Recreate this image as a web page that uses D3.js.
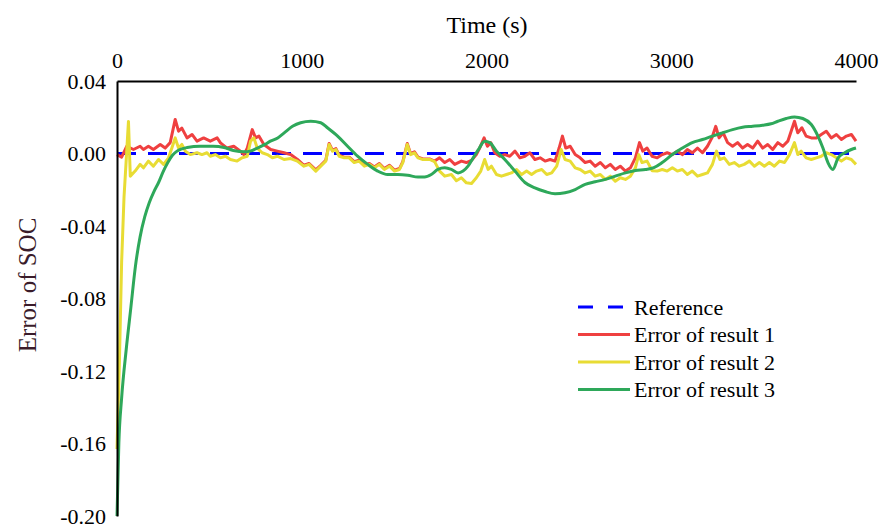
<!DOCTYPE html>
<html>
<head>
<meta charset="utf-8">
<script src="https://cdn.jsdelivr.net/npm/d3@7/dist/d3.min.js"></script>
<style>
  body { margin: 0; background: #fff; }
  svg text { font-family: 'Liberation Serif', 'Times New Roman', Times, serif; }
</style>
</head>
<body>
<svg id="chart" width="881" height="530"></svg>
<script>
// tick values
const xTicks = [0, 1000, 2000, 3000, 4000];
const yTicks = [0.04, 0.00, -0.04, -0.08, -0.12, -0.16, -0.20];

// [time (s), error]
const reference = [[0, 0], [4000, 0]];

const result1 = [
  [0,-0.0006],[25,-0.002],[53,0.004],[89,0.0022],[125,0.004],[143,0.0022],[170,0.004],[197,0.0022],
  [234,0.005],[261,0.003],[288,0.006],[315,0.0188],[333,0.0123],[351,0.014],[379,0.0086],[406,0.0105],
  [433,0.0068],[469,0.0086],[505,0.0068],[542,0.0086],[560,0.0059],[596,0.003],[632,0.004],[668,0.0013],
  [687,-0.0006],[705,0.003],[732,0.0132],[750,0.0086],[768,0.0096],[795,0.005],[832,0.0022],[868,0.0013],
  [904,0.0004],[940,-0.0006],[977,-0.0033],[1012,-0.0065],[1040,-0.0055],[1076,-0.009],[1103,-0.0065],
  [1130,-0.0037],[1148,0.0055],[1166,0.0018],[1185,0.0027],[1203,-0.001],[1230,-0.002],[1257,-0.002],
  [1284,-0.0045],[1311,-0.0037],[1339,-0.0065],[1366,-0.0055],[1393,-0.0074],[1420,-0.0055],[1447,-0.0083],
  [1475,-0.0065],[1502,-0.0092],[1529,-0.0083],[1547,-0.0045],[1571,0.0055],[1589,-0.0001],[1610,0.0009],
  [1629,-0.002],[1656,-0.003],[1692,-0.003],[1719,-0.0042],[1746,-0.0024],[1774,-0.005],[1801,-0.0033],
  [1828,-0.006],[1864,-0.0042],[1891,-0.005],[1919,-0.0038],[1945,-0.0006],[1963,0.003],[1987,0.0086],
  [2005,0.004],[2023,0.006],[2045,0.0004],[2072,-0.0015],[2099,-0.0006],[2126,-0.0015],[2154,0.0013],
  [2181,-0.0024],[2208,-0.0015],[2235,0.0004],[2262,-0.0033],[2290,-0.0024],[2317,-0.0042],[2344,-0.0033],
  [2371,-0.0042],[2393,0.003],[2411,0.0096],[2429,0.003],[2453,0.004],[2480,-0.0006],[2507,-0.0024],
  [2534,-0.005],[2561,-0.0042],[2588,-0.007],[2616,-0.005],[2643,-0.0079],[2670,-0.006],[2697,-0.0088],
  [2724,-0.007],[2752,-0.0097],[2779,-0.0079],[2806,-0.0024],[2828,0.006],[2846,0.0013],[2869,0.003],
  [2896,-0.0015],[2924,-0.0024],[2951,-0.0006],[2978,0.0004],[3006,-0.0006],[3033,0.0013],[3060,-0.0006],
  [3087,0.0022],[3114,0.0004],[3142,0.003],[3169,0.0004],[3196,0.004],[3220,0.0086],[3241,0.015],
  [3259,0.0086],[3281,0.0114],[3305,0.006],[3332,0.004],[3359,0.006],[3386,0.003],[3413,0.005],[3441,0.003],
  [3468,0.0068],[3495,0.003],[3522,0.005],[3549,0.0022],[3577,0.006],[3604,0.004],[3631,0.0068],
  [3649,0.0123],[3667,0.0178],[3685,0.0114],[3707,0.0142],[3730,0.0096],[3758,0.0086],[3785,0.0086],
  [3812,0.0105],[3839,0.0123],[3866,0.0086],[3894,0.0105],[3921,0.0077],[3948,0.0096],[3975,0.0105],
  [4000,0.0068]
];

const result2 = [
  [0,-0.163],[13,-0.115],[25,-0.060],[38,-0.024],[49,-0.005],[62,0.0177],[72,-0.0125],[98,-0.0097],
  [125,-0.006],[143,-0.0079],[170,-0.0042],[197,-0.007],[225,-0.0033],[252,-0.006],[279,-0.0024],
  [297,0.003],[315,0.0086],[333,0.003],[351,0.005],[370,0.0013],[397,-0.0006],[433,0.0004],[460,-0.0006],
  [487,0.0004],[505,-0.0015],[532,-0.0006],[560,-0.0024],[587,-0.0015],[614,-0.0033],[650,-0.0042],
  [677,-0.0024],[705,-0.0015],[723,0.0068],[741,0.0086],[759,0.003],[786,0.0004],[814,-0.0006],
  [841,-0.0024],[868,-0.0015],[904,-0.0033],[940,-0.0028],[976,-0.0042],[1012,-0.007],[1040,-0.006],
  [1076,-0.0097],[1103,-0.007],[1130,-0.0042],[1148,0.005],[1166,0.0013],[1185,0.0022],[1203,-0.0015],
  [1230,-0.0024],[1257,-0.0024],[1284,-0.005],[1311,-0.0042],[1339,-0.007],[1366,-0.006],[1393,-0.0079],
  [1420,-0.006],[1447,-0.0088],[1475,-0.007],[1502,-0.0097],[1529,-0.0088],[1547,-0.005],[1571,0.005],
  [1589,-0.0006],[1610,0.0004],[1629,-0.0024],[1656,-0.0033],[1692,-0.0033],[1719,-0.0045],[1746,-0.0097],
  [1774,-0.0125],[1810,-0.0116],[1837,-0.015],[1864,-0.0134],[1891,-0.0162],[1919,-0.0165],[1945,-0.0134],
  [1969,-0.0097],[1990,-0.0033],[2009,-0.0088],[2027,-0.007],[2054,-0.0116],[2081,-0.0125],[2108,-0.0116],
  [2135,-0.0107],[2163,-0.0088],[2190,-0.0116],[2217,-0.0097],[2244,-0.0116],[2271,-0.0097],[2299,-0.0088],
  [2326,-0.0116],[2353,-0.0107],[2380,-0.007],[2404,0.0022],[2425,-0.0033],[2453,-0.0042],[2480,-0.0079],
  [2507,-0.0088],[2534,-0.0107],[2561,-0.0097],[2588,-0.0125],[2616,-0.0116],[2643,-0.0143],[2670,-0.0125],
  [2697,-0.0153],[2724,-0.0134],[2752,-0.0143],[2779,-0.0125],[2806,-0.0079],[2824,-0.0006],[2842,-0.005],
  [2869,-0.0042],[2897,-0.0095],[2924,-0.0097],[2951,-0.0088],[2978,-0.0097],[3006,-0.0079],[3033,-0.0097],
  [3060,-0.0088],[3087,-0.0116],[3114,-0.0097],[3142,-0.0125],[3169,-0.0116],[3196,-0.0107],[3223,-0.006],
  [3245,0.0013],[3263,-0.0033],[3287,-0.0024],[3314,-0.006],[3341,-0.005],[3368,-0.007],[3395,-0.006],
  [3423,-0.0042],[3450,-0.007],[3477,-0.005],[3504,-0.007],[3531,-0.005],[3558,-0.007],[3586,-0.0042],
  [3613,-0.005],[3640,-0.0006],[3667,0.006],[3685,-0.0006],[3703,0.0013],[3730,-0.0024],[3758,-0.0033],
  [3785,-0.0024],[3812,-0.0015],[3839,0.0004],[3866,-0.0006],[3894,-0.0024],[3921,-0.0042],[3948,-0.0024],
  [3975,-0.0033],[4000,-0.006]
];

const result3 = [
  [0,-0.2],[10,-0.16],[25,-0.135],[50,-0.108],[75,-0.085],[100,-0.062],[125,-0.046],[150,-0.035],
  [175,-0.027],[200,-0.021],[225,-0.016],[250,-0.010],[275,-0.005],[300,-0.001],[325,0.0013],[380,0.0033],
  [450,0.004],[520,0.004],[580,0.0033],[630,0.0017],[690,0.0009],[720,0.0013],[760,0.003],[800,0.005],
  [830,0.0068],[870,0.0086],[905,0.0114],[950,0.015],[994,0.017],[1049,0.0178],[1103,0.017],[1139,0.0142],
  [1194,0.0096],[1248,0.004],[1302,-0.0015],[1357,-0.006],[1411,-0.0097],[1465,-0.0116],[1520,-0.0116],
  [1574,-0.012],[1629,-0.013],[1665,-0.013],[1701,-0.0116],[1737,-0.0088],[1774,-0.0079],[1810,-0.0088],
  [1846,-0.0107],[1873,-0.0097],[1900,-0.007],[1928,-0.0024],[1955,0.002],[1990,0.0068],[2018,0.006],
  [2054,0.0013],[2099,-0.0033],[2154,-0.0097],[2208,-0.016],[2262,-0.019],[2317,-0.021],[2371,-0.0222],
  [2425,-0.0217],[2480,-0.0199],[2534,-0.017],[2588,-0.0156],[2643,-0.0143],[2697,-0.0125],[2752,-0.0107],
  [2806,-0.0094],[2860,-0.0088],[2906,-0.0078],[2951,-0.005],[3006,-0.0006],[3060,0.003],[3114,0.006],
  [3169,0.0077],[3223,0.0096],[3277,0.0114],[3332,0.0132],[3386,0.0145],[3441,0.015],[3495,0.0156],
  [3540,0.0164],[3577,0.0178],[3622,0.0193],[3667,0.0202],[3712,0.0193],[3758,0.016],[3794,0.0096],
  [3821,0.003],[3848,-0.005],[3875,-0.0088],[3903,-0.0024],[3939,0.0004],[3975,0.0022],[4000,0.003]
];

const series = [
  { name: 'Reference', data: reference, color: '#0000ff', dash: '19,12', curve: d3.curveLinear },
  { name: 'Error of result 1', data: result1, color: '#ef4040', dash: null, curve: d3.curveLinear },
  { name: 'Error of result 2', data: result2, color: '#e8dc34', dash: null, curve: d3.curveLinear },
  { name: 'Error of result 3', data: result3, color: '#2ea85a', dash: null, curve: d3.curveMonotoneX }
];

const svg = d3.select('#chart');
const plotLeft = 117, plotRight = 856, plotTop = 81, plotBottom = 516;

const x = d3.scaleLinear().domain([0, 4000]).range([plotLeft, plotRight]);
const y = d3.scaleLinear().domain([-0.20, 0.04]).range([plotBottom, plotTop]);

// lines
series.forEach(s => {
  const line = d3.line().x(d => x(d[0])).y(d => y(d[1])).curve(s.curve);
  svg.append('path')
    .datum(s.data)
    .attr('d', line)
    .attr('fill', 'none')
    .attr('stroke', s.color)
    .attr('stroke-width', 3)
    .attr('stroke-linejoin', 'round')
    .attr('stroke-dasharray', s.dash);
});

// axes: x on top, y on left, no tick marks
const xAxis = svg.append('g')
  .attr('transform', `translate(0,${plotTop})`)
  .call(d3.axisTop(x).tickValues(xTicks).tickSize(0).tickPadding(13).tickFormat(d3.format('d')));
const yAxis = svg.append('g')
  .attr('transform', `translate(${plotLeft},0)`)
  .call(d3.axisLeft(y).tickValues(yTicks).tickSize(0).tickPadding(11).tickFormat(d => d.toFixed(2)));

[xAxis, yAxis].forEach(g => {
  g.attr('font-family', null);
  g.select('.domain').attr('stroke', '#000').attr('stroke-width', 2);
  g.selectAll('text').attr('font-size', 22).attr('fill', '#000');
});

svg.append('text')
  .attr('x', 487).attr('y', 33)
  .attr('text-anchor', 'middle')
  .attr('font-size', 24)
  .text('Time (s)');

svg.append('text')
  .attr('transform', 'translate(36,285) rotate(-90)')
  .attr('text-anchor', 'middle')
  .attr('font-size', 25)
  .attr('fill', '#3a1c2a')
  .text('Error of SOC');

// legend
const legend = svg.append('g').attr('transform', 'translate(578,307)');
series.forEach((s, i) => {
  const row = legend.append('g').attr('transform', `translate(0,${i * 27.5})`);
  row.append('line')
    .attr('x1', 0).attr('x2', s.dash ? 46 : 52)
    .attr('stroke', s.color).attr('stroke-width', 3)
    .attr('stroke-dasharray', s.dash ? '15,15' : null);
  row.append('text')
    .attr('x', 56).attr('dy', '0.35em')
    .attr('font-size', 22)
    .text(s.name);
});
</script>
</body>
</html>
